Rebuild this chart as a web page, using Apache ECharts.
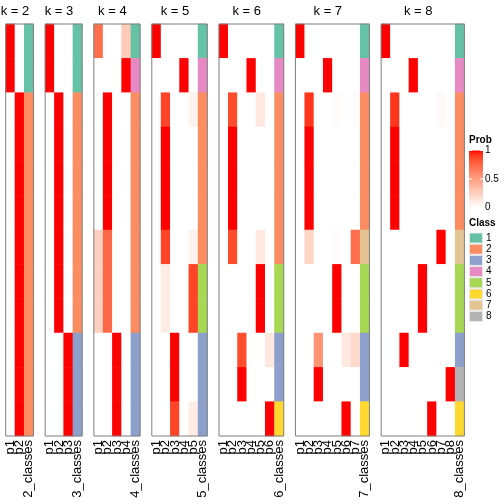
<!DOCTYPE html>
<html><head><meta charset="utf-8">
<script src="https://cdn.jsdelivr.net/npm/echarts@6/dist/echarts.min.js"></script>
<style>html,body{margin:0;padding:0;background:#fff}#c{width:504px;height:504px}</style>
</head><body><div id="c"></div><script>
// ---- data ----
const ks = [2, 3, 4, 5, 6, 7, 8];
const rowCount = 12;
const classNames = ['1', '2', '3', '4', '5', '6', '7', '8'];
const classColors = ['#66C2A5', '#FC8D62', '#8DA0CB', '#E78AC3', '#A6D854', '#FFD92F', '#E5C494', '#B3B3B3'];
const probTicks = [1, 0.5, 0];

const prob2 = [
  [1,1,0,0,0,0,0,0,0,0,0,0],
  [0,0,1,1,1,1,1,1,1,1,1,1]];
const class2 = [1,1,2,2,2,2,2,2,2,2,2,2];

const prob3 = [
  [1,1,0,0,0,0,0,0,0,0,0,0],
  [0,0,1,1,1,1,1,1,1,0,0,0],
  [0,0,0,0,0,0,0,0,0,1,1,1]];
const class3 = [1,1,2,2,2,2,2,2,2,3,3,3];

const prob4 = [
  [0.72,0,0,0,0,0,0.25,0.25,0.25,0,0,0],
  [0,0,1,1,1,1,0.75,0.75,0.75,0,0,0],
  [0,0,0,0,0,0,0,0,0,1,1,1],
  [0.28,1,0,0,0,0,0,0,0,0,0,0]];
const class4 = [1,4,2,2,2,2,2,2,2,3,3,3];

const prob5 = [
  [1,0,0,0,0,0,0,0,0,0,0,0],
  [0,0,0.88,1,1,1,0.88,0.1,0.1,0,0,0],
  [0,0,0,0,0,0,0,0,0,1,1,0.88],
  [0,1,0,0,0,0,0,0,0,0,0,0],
  [0,0,0.07,0,0,0,0.07,0.88,0.88,0,0,0.1]];
const class5 = [1,4,2,2,2,2,2,5,5,3,3,3];

const prob6 = [
  [1,0,0,0,0,0,0,0,0,0,0,0],
  [0,0,0.85,1,1,1,0.85,0,0,0,0,0],
  [0,0,0,0,0,0,0,0,0,0.85,1,0],
  [0,1,0,0,0,0,0,0,0,0,0,0],
  [0,0,0.12,0,0,0,0.12,1,1,0,0,0],
  [0,0,0,0,0,0,0,0,0,0.12,0,1]];
const class6 = [1,4,2,2,2,2,2,5,5,3,3,6];

const prob7 = [
  [1,0,0,0,0,0,0,0,0,0,0,0],
  [0,0,0.92,1,1,1,0.22,0,0,0,0,0],
  [0,0,0,0,0,0,0,0,0,0.55,1,0],
  [0,1,0,0,0,0,0,0,0,0,0,0],
  [0,0,0.02,0,0,0,0.02,1,1,0,0,0],
  [0,0,0,0,0,0,0,0,0,0.12,0,1],
  [0,0,0.02,0,0,0,0.72,0,0,0.2,0,0]];
const class7 = [1,4,2,2,2,2,7,5,5,3,3,6];

const prob8 = [
  [1,0,0,0,0,0,0,0,0,0,0,0],
  [0,0,0.92,1,1,1,0,0,0,0,0,0],
  [0,0,0,0,0,0,0,0,0,1,0,0],
  [0,1,0,0,0,0,0,0,0,0,0,0],
  [0,0,0,0,0,0,0,1,1,0,0,0],
  [0,0,0,0,0,0,0,0,0,0,0,1],
  [0,0,0.03,0,0,0,1,0,0,0,0,0],
  [0,0,0,0,0,0,0,0,0,0,1,0]];
const class8 = [1,4,2,2,2,2,7,5,5,3,8,6];

const probs = {2: prob2, 3: prob3, 4: prob4, 5: prob5, 6: prob6, 7: prob7, 8: prob8};
const classes = {2: class2, 3: class3, 4: class4, 5: class5, 6: class6, 7: class7, 8: class8};

// ---- colour ramp (white -> red in LAB, like circlize::colorRamp2) ----
function labToHex(L, a, b) {
  const fy = (L + 16) / 116, fx = fy + a / 500, fz = fy - b / 200;
  const f = t => t > 0.206893 ? t * t * t : (t - 16 / 116) / 7.787;
  const X = 0.95047 * f(fx), Y = f(fy), Z = 1.08883 * f(fz);
  let r = 3.2406 * X - 1.5372 * Y - 0.4986 * Z;
  let g = -0.9689 * X + 1.8758 * Y + 0.0415 * Z;
  let bb = 0.0557 * X - 0.2040 * Y + 1.0570 * Z;
  const gam = c => { c = Math.max(0, Math.min(1, c)); return c <= 0.0031308 ? 12.92 * c : 1.055 * Math.pow(c, 1 / 2.4) - 0.055; };
  const h = c => ('0' + Math.round(gam(c) * 255).toString(16)).slice(-2);
  return '#' + h(r) + h(g) + h(bb);
}
const rampColors = [];
for (let i = 0; i <= 20; i++) {
  const t = i / 20;
  rampColors.push(labToHex(100 + (53.24 - 100) * t, 80.09 * t, 67.20 * t));
}

// ---- layout ----
const colW = 9.25, gap = 11.7, x0 = 5.7, gTop = 24, gH = 412;
const FONT = '"Liberation Sans", Arial, Helvetica, sans-serif';

const grids = [], xAxes = [], yAxes = [], series = [], graphics = [];
const probSeriesIdx = [], classSeriesIdx = [];
let left = x0;
ks.forEach((k, gi) => {
  const nCols = k + 1;
  const w = nCols * colW;
  grids.push({left: left, top: gTop, width: w, height: gH, containLabel: false});
  const labels = [];
  for (let j = 1; j <= k; j++) labels.push('p' + j);
  labels.push(k + '_classes');
  xAxes.push({
    type: 'category', gridIndex: gi, data: labels, position: 'bottom',
    axisLine: {show: false}, axisTick: {show: false}, splitLine: {show: false},
    axisLabel: {rotate: 90, interval: 0, margin: 4, fontSize: 13, color: '#000', fontFamily: FONT}
  });
  const rowsCat = [];
  for (let r = 0; r < rowCount; r++) rowsCat.push('s' + r);
  yAxes.push({type: 'category', gridIndex: gi, data: rowsCat, inverse: true, show: false});

  const pd = [];
  probs[k].forEach((col, ci) => col.forEach((v, ri) => pd.push([ci, ri, v])));
  probSeriesIdx.push(series.length);
  series.push({type: 'heatmap', xAxisIndex: gi, yAxisIndex: gi, data: pd, silent: true,
    itemStyle: {borderWidth: 0}, emphasis: {disabled: true}, progressive: 0});
  const cd = classes[k].map((c, ri) => [k, ri, c]);
  classSeriesIdx.push(series.length);
  series.push({type: 'heatmap', xAxisIndex: gi, yAxisIndex: gi, data: cd, silent: true,
    itemStyle: {borderWidth: 0}, emphasis: {disabled: true}, progressive: 0});
  series.push({type: 'custom', xAxisIndex: gi, yAxisIndex: gi, data: [[0, 0]], silent: true, z: 10,
    renderItem: (params) => {
      const cs = params.coordSys;
      return {type: 'rect', shape: {x: cs.x, y: cs.y, width: cs.width, height: cs.height},
        style: {fill: null, stroke: '#7f7f7f', lineWidth: 1}};
    }});
  // title centered above the probability columns
  graphics.push({type: 'text', left: null, x: left + k * colW / 2, y: 11,
    style: {text: 'k = ' + k, fill: '#000', font: '13px ' + FONT, textAlign: 'center', textVerticalAlign: 'middle'}});
  left += w + gap;
});

// ---- legend (Prob) ----
const lgX = 469;
graphics.push({type: 'text', x: lgX, y: 140, style: {text: 'Prob', fill: '#000', font: 'bold 10px ' + FONT, textVerticalAlign: 'middle'}});
const barTop = 150.5, barH = 57;
const stops = rampColors.map((c, i) => ({offset: 1 - i / 20, color: c}));
graphics.push({type: 'rect', shape: {x: lgX, y: barTop, width: 14, height: barH},
  style: {fill: new echarts.graphic.LinearGradient(0, 0, 0, 1, stops.slice().reverse())}});
probTicks.forEach(v => {
  const y = barTop + (1 - v) * barH;
  graphics.push({type: 'text', x: lgX + 16, y: y, style: {text: String(v), fill: '#000', font: '10px ' + FONT, textVerticalAlign: 'middle'}});
  if (v > 0) {
    graphics.push({type: 'line', shape: {x1: lgX, y1: y, x2: lgX + 3, y2: y}, style: {stroke: '#fff', lineWidth: 1}});
    graphics.push({type: 'line', shape: {x1: lgX + 11, y1: y, x2: lgX + 14, y2: y}, style: {stroke: '#fff', lineWidth: 1}});
  }
});
// ---- legend (Class) ----
graphics.push({type: 'text', x: lgX, y: 223, style: {text: 'Class', fill: '#000', font: 'bold 10px ' + FONT, textVerticalAlign: 'middle'}});
classNames.forEach((n, i) => {
  const yc = 238 + i * 11.2;
  graphics.push({type: 'rect', shape: {x: lgX + 0.5, y: yc - 5, width: 13, height: 10},
    style: {fill: classColors[i], stroke: '#e6e6e6', lineWidth: 1}});
  graphics.push({type: 'text', x: lgX + 17, y: yc, style: {text: n, fill: '#000', font: '10px ' + FONT, textVerticalAlign: 'middle'}});
});

const chart = echarts.init(document.getElementById('c'), null, {renderer: 'canvas'});
chart.setOption({
  animation: false,
  backgroundColor: '#fff',
  grid: grids, xAxis: xAxes, yAxis: yAxes, series: series,
  visualMap: [
    {type: 'continuous', show: false, min: 0, max: 1, dimension: 2, seriesIndex: probSeriesIdx,
      inRange: {color: rampColors}},
    {type: 'piecewise', show: false, dimension: 2, seriesIndex: classSeriesIdx,
      pieces: classColors.map((c, i) => ({value: i + 1, color: c}))}
  ],
  graphic: graphics
});
</script></body></html>
